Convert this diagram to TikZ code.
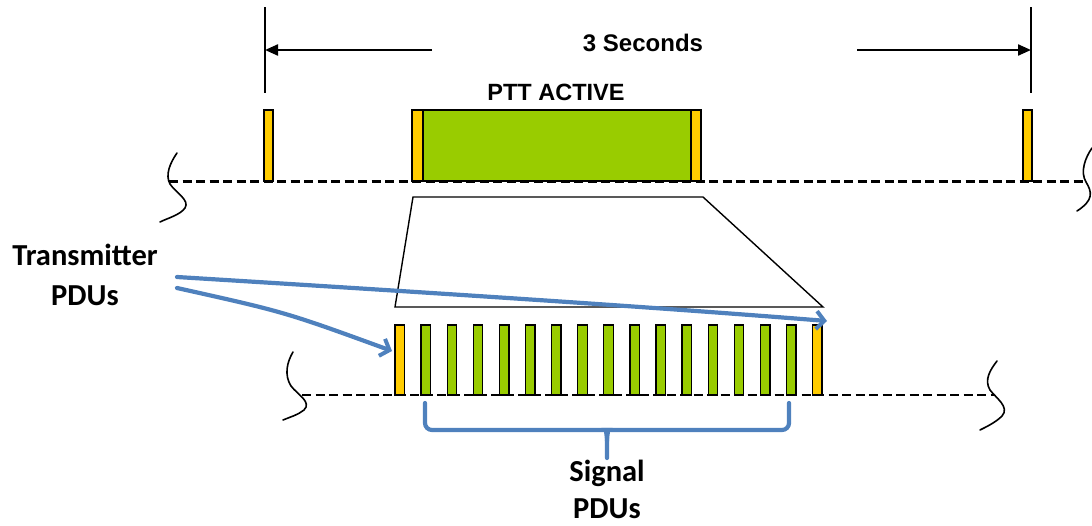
\documentclass[tikz,border=0pt]{standalone}
\usepackage{fontspec}
\newfontfamily\arialf{Liberation Sans}
\newfontfamily\calf{Carlito}
\usetikzlibrary{arrows.meta}
\definecolor{pduyellow}{HTML}{FFCC00}
\definecolor{pdugreen}{HTML}{99CC00}
\definecolor{pdublue}{HTML}{4F81BD}
\begin{document}
\begin{tikzpicture}[x=1pt,y=-1pt,
  ybar/.style={draw=black,line width=1.3pt,fill=pduyellow},
  gbar/.style={draw=black,line width=1.3pt,fill=pdugreen},
  dashline/.style={line width=3pt,dash pattern=on 9pt off 4.5pt},
  wig/.style={line width=1.6pt,line cap=round},
  tick/.style={line width=1.6pt},
  blackarrow/.style={line width=2.2pt,-{Triangle[length=13pt,width=11pt]}},
  bluearrow/.style={draw=pdublue,line width=4.2pt,line cap=round,-{Straight Barb[length=8pt,width=18pt,line width=4pt]}},
  bluebrace/.style={draw=pdublue,line width=4.2pt},
  toplbl/.style={font=\arialf\bfseries\fontsize{24}{28}\selectfont,inner sep=0pt,anchor=base},
  lbl/.style={font=\calf\bfseries\fontsize{30.5}{40}\selectfont,align=center,inner sep=0pt,anchor=base}]
\useasboundingbox (0,0) rectangle (1092,525);

% top timing
\coordinate (tickL) at (265,50);
\coordinate (tickR) at (1031,50);
\coordinate (arrLs) at (432,50);
\coordinate (arrRs) at (857,50);
\draw[tick] (265,7) -- (265,93);
\draw[tick] (1031,7) -- (1031,93);
\draw[blackarrow] (arrLs) -- (tickL);
\draw[blackarrow] (arrRs) -- (tickR);
\node[toplbl] (sec) at (643,51) {3 Seconds};
\node[toplbl,font=\arialf\bfseries\fontsize{23.5}{28}\selectfont] (ptt) at (556,100) {PTT ACTIVE};

% top dashed line and wiggles
\draw[dashline] (169,181) -- (1086,181);
\draw[wig] (177,153) .. controls (170,163) and (165,175) .. (170,184)
  .. controls (176,193) and (190,200) .. (185,208)
  .. controls (180,215) and (168,218) .. (160,222);
\draw[wig] (1092,148) .. controls (1085,158) and (1080,172) .. (1086,182)
  .. controls (1092,192) and (1094,200) .. (1077,211);

% top bars
\draw[ybar] (264,110) rectangle (273,181);
\draw[gbar] (423,110) rectangle (691,181);
\draw[ybar] (412,110) rectangle (423,181);
\draw[ybar] (691,110) rectangle (701,181);
\draw[ybar] (1023,110) rectangle (1032,181);

% zoom trapezoid
\draw[line width=1.4pt] (413,197) -- (703,197) -- (823,307) -- (395,307) -- cycle;

% bottom dashed line and wiggles
\draw[dashline,line width=2.6pt] (302,395) -- (994,395);
\draw[wig] (293,352) .. controls (287,362) and (284,375) .. (291,386)
  .. controls (298,395) and (312,402) .. (304,410)
  .. controls (298,415) and (290,417) .. (283,420);
\draw[wig] (997,361) .. controls (990,370) and (984,380) .. (990,390)
  .. controls (996,398) and (1010,407) .. (1002,416)
  .. controls (996,422) and (988,426) .. (980,430);

% bottom bars
\foreach \i in {0,...,16}{
  \pgfmathsetmacro{\xa}{395+26.1*\i}
  \pgfmathsetmacro{\xb}{\xa+9.5}
  \ifnum\i=0 \def\bs{ybar}\else\ifnum\i=16 \def\bs{ybar}\else\def\bs{gbar}\fi\fi
  \draw[\bs] (\xa,325) rectangle (\xb,395);
}
\coordinate (firstbar) at (392,351);
\coordinate (lastbar) at (827,321);

% labels
\node[lbl] (tx) at (85,305) {Transmitter\\PDUs};
\coordinate (txa) at (177,277);
\coordinate (txb) at (177,288);
\draw[bluearrow] (txa) .. controls (420,292) and (640,306) .. (lastbar);
\draw[bluearrow] (txb) .. controls (285,312) .. (firstbar);

% brace
\draw[bluebrace,line cap=round] (425,403) [rounded corners=7pt] -- (425,430) -- (600,430) [sharp corners]
  .. controls (605,430) and (607,434) .. (607,441) -- (607,458);
\draw[bluebrace,line cap=round] (789,403) [rounded corners=7pt] -- (789,430) -- (614,430) [sharp corners]
  .. controls (609,430) and (607,434) .. (607,441);
\node[lbl,font=\calf\bfseries\fontsize{30.5}{37}\selectfont] (sig) at (607,518) {Signal\\PDUs};
\end{tikzpicture}
\end{document}
